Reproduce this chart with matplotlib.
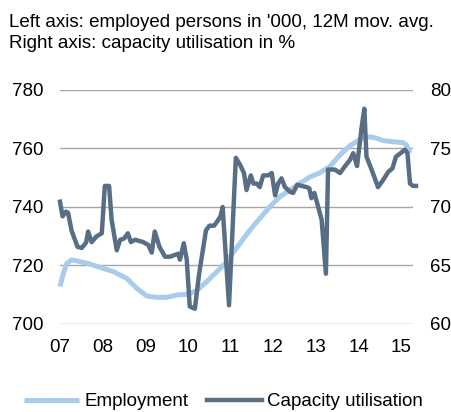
import matplotlib
matplotlib.use("Agg")
import matplotlib.pyplot as plt
import numpy as np

plt.rcParams['font.family'] = ['Liberation Sans', 'DejaVu Sans']

# Employment, '000 persons, 12M moving average (dates as decimal years)
emp_dates = [2007.00, 2007.08, 2007.16, 2007.27, 2007.39, 2007.70, 2008.01, 2008.25,
             2008.56, 2008.80, 2009.03, 2009.26, 2009.50, 2009.73, 2010.00, 2010.20,
             2010.44, 2010.67, 2010.90, 2010.98, 2011.22, 2011.45, 2011.68, 2011.92,
             2012.15, 2012.39, 2012.62, 2012.85, 2013.09, 2013.32, 2013.56, 2013.79,
             2014.03, 2014.26, 2014.42, 2014.57, 2014.80, 2015.04, 2015.12, 2015.20]
employment = [712.8, 717.3, 720.7, 721.9, 721.6, 720.5, 719.0, 717.9,
              715.6, 712.2, 709.6, 709.1, 709.1, 709.9, 710.2, 711.4,
              714.5, 717.8, 721.2, 723.0, 727.6, 732.1, 736.1, 740.1,
              743.5, 745.8, 748.1, 750.2, 751.7, 753.8, 757.8, 760.9,
              763.1, 764.0, 763.5, 762.7, 762.3, 762.0, 761.2, 758.4]

# Capacity utilisation, %
cap_dates = [2007.00, 2007.06, 2007.14, 2007.19, 2007.27, 2007.41, 2007.51, 2007.61,
             2007.66, 2007.74, 2007.86, 2007.98, 2008.05, 2008.15, 2008.21, 2008.33,
             2008.41, 2008.50, 2008.59, 2008.66, 2008.76, 2008.95, 2009.07, 2009.15,
             2009.22, 2009.33, 2009.46, 2009.58, 2009.69, 2009.77, 2009.81, 2009.90,
             2009.97, 2010.04, 2010.16, 2010.26, 2010.36, 2010.42, 2010.50, 2010.61,
             2010.68, 2010.76, 2010.81, 2010.96, 2011.12, 2011.22, 2011.31, 2011.37,
             2011.47, 2011.53, 2011.61, 2011.68, 2011.76, 2011.88, 2011.96, 2012.04,
             2012.11, 2012.19, 2012.27, 2012.39, 2012.46, 2012.56, 2012.66, 2012.78,
             2012.84, 2012.89, 2012.96, 2013.05, 2013.13, 2013.23, 2013.28, 2013.44,
             2013.56, 2013.67, 2013.79, 2013.87, 2013.96, 2014.07, 2014.13, 2014.18,
             2014.30, 2014.45, 2014.57, 2014.69, 2014.79, 2014.87, 2014.98, 2015.08,
             2015.14, 2015.20, 2015.27, 2015.34]
capacity = [70.45, 69.2, 69.6, 69.5, 68.0, 66.6, 66.5, 66.95,
            67.9, 67.0, 67.5, 67.75, 71.8, 71.8, 68.9, 66.3,
            67.2, 67.3, 67.75, 67.0, 67.2, 67.0, 66.75, 66.1,
            67.9, 66.6, 65.75, 65.75, 65.9, 66.0, 65.5, 66.9,
            65.5, 61.5, 61.3, 64.3, 66.6, 68.0, 68.4, 68.4,
            68.75, 69.2, 70.0, 61.6, 74.2, 73.6, 72.9, 71.45,
            72.7, 72.0, 72.0, 71.7, 72.7, 72.7, 72.9, 71.0,
            72.0, 72.45, 71.7, 71.3, 71.2, 71.9, 71.8, 71.7,
            71.6, 70.75, 71.2, 70.0, 68.9, 64.3, 73.2, 73.2,
            72.9, 73.45, 74.0, 74.6, 73.5, 76.9, 78.4, 74.3,
            73.2, 71.7, 72.3, 73.0, 73.3, 74.3, 74.6, 74.9,
            74.6, 72.0, 71.8, 71.8]

years = np.arange(2007, 2016)
year_labels = ['07', '08', '09', '10', '11', '12', '13', '14', '15']

light = '#A9CCEC'
dark = '#586E85'
fs = 13.5

fig = plt.figure(figsize=(4.52, 4.12), dpi=100)
ax = fig.add_axes([0.1327, 0.2136, 0.781, 0.568])
ax2 = ax.twinx()

l1, = ax.plot(emp_dates, employment, color=light, lw=3.6, solid_capstyle='butt',
              label='Employment', clip_on=False)
l2, = ax2.plot(cap_dates, capacity, color=dark, lw=3.2, solid_joinstyle='round',
               label='Capacity utilisation', clip_on=False)

ax.set_xlim(2007.0, 2015.27)
ax.set_ylim(700, 780)
ax2.set_ylim(60, 80)
ax.set_yticks([700, 720, 740, 760, 780])
ax2.set_yticks([60, 65, 70, 75, 80])
ax.set_xticks(years)
ax.set_xticklabels(year_labels)

ax.grid(axis='y', color='#A6A6A6', lw=1.0)
ax.set_axisbelow(True)
for a in (ax, ax2):
    for s in a.spines.values():
        s.set_visible(False)
    a.tick_params(length=0, labelsize=fs, colors='#000000')
ax.tick_params(axis='y', pad=12)
ax.tick_params(axis='x', pad=11)
ax2.tick_params(axis='y', pad=12)

fig.text(0.019, 0.9345, "Left axis: employed persons in '000, 12M mov. avg.", fontsize=fs)
fig.text(0.019, 0.8835, "Right axis: capacity utilisation in %", fontsize=fs)

fig.legend(handles=[l1, l2], loc='center', bbox_to_anchor=(0.495, 0.025), ncol=2,
           frameon=False, fontsize=fs, handlelength=2.9, handletextpad=0.3,
           columnspacing=1.0)

fig.savefig('out.png', dpi=100)
